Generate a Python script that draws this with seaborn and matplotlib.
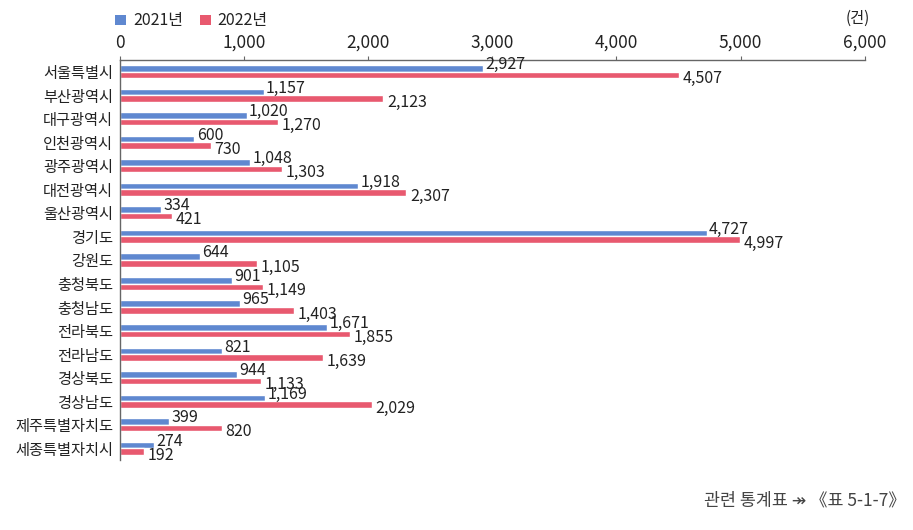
import matplotlib
matplotlib.use("Agg")
import matplotlib.pyplot as plt
import seaborn as sns
import pandas as pd
from matplotlib.patches import Rectangle

regions = ["서울특별시", "부산광역시", "대구광역시", "인천광역시", "광주광역시", "대전광역시",
           "울산광역시", "경기도", "강원도", "충청북도", "충청남도", "전라북도", "전라남도",
           "경상북도", "경상남도", "제주특별자치도", "세종특별자치시"]
v2021 = [2927, 1157, 1020, 600, 1048, 1918, 334, 4727, 644, 901, 965, 1671, 821, 944, 1169, 399, 274]
v2022 = [4507, 2123, 1270, 730, 1303, 2307, 421, 4997, 1105, 1149, 1403, 1855, 1639, 1133, 2029, 820, 192]
series = ["2021년", "2022년"]
xticks = [0, 1000, 2000, 3000, 4000, 5000, 6000]

sns.set_theme(style="white")
plt.rcParams['font.family'] = ['Noto Sans CJK KR', 'DejaVu Sans']

df = pd.DataFrame({
    "지역": regions * 2,
    "값": v2021 + v2022,
    "연도": [series[0]] * len(regions) + [series[1]] * len(regions),
})

colors = ["#5f88d0", "#e8596f"]
fig = plt.figure(figsize=(9.13, 5.30), dpi=100)
ax = fig.add_axes([0.1314, 0.132, 0.8156, 0.755])
sns.barplot(data=df, y="지역", x="값", hue="연도", hue_order=series, order=regions,
            palette=colors, orient="h", width=0.56, ax=ax, legend=False, saturation=1)

ax.set_xlim(0, 6000)
ax.set_ylim(len(regions) - 0.5, -0.5)
ax.xaxis.tick_top()
ax.set_xticks(xticks)
ax.set_xticklabels([f"{t:,}" for t in xticks], fontsize=12.5, color="#222")
ax.tick_params(axis="x", direction="out", length=3, width=0.8, color="#666", pad=3)
ax.tick_params(axis="y", length=0, labelsize=11, labelcolor="#222", pad=5)
ax.set_xlabel("")
ax.set_ylabel("")
for s in ["right", "bottom"]:
    ax.spines[s].set_visible(False)
for s in ["top", "left"]:
    ax.spines[s].set_color("#666")
    ax.spines[s].set_linewidth(1.0)

# value labels
for i, (a, b) in enumerate(zip(v2021, v2022)):
    ax.text(a + 20, i - 0.3, f"{a:,}", va="center", ha="left", fontsize=11.5, color="#222")
    ax.text(b + 30, i + 0.3, f"{b:,}", va="center", ha="left", fontsize=11.5, color="#222")

# legend
lx = [0.126, 0.219]
for x, c, s in zip(lx, colors, series):
    fig.patches.append(Rectangle((x, 0.952), 0.0125, 0.019, transform=fig.transFigure,
                                 facecolor=c, edgecolor="none"))
    fig.text(x + 0.0195, 0.962, s, fontsize=11.5, va="center", ha="left", color="#222")

fig.text(0.939, 0.966, "(건)", fontsize=11, ha="center", va="center", color="#222")
fig.text(0.992, 0.055, "관련 통계표 ↠ 《표 5-1-7》", fontsize=12.5, ha="right", va="center",
         color="#444", family=['Noto Sans CJK KR', 'DejaVu Sans'])

fig.savefig("out.png", dpi=100, facecolor="white")
